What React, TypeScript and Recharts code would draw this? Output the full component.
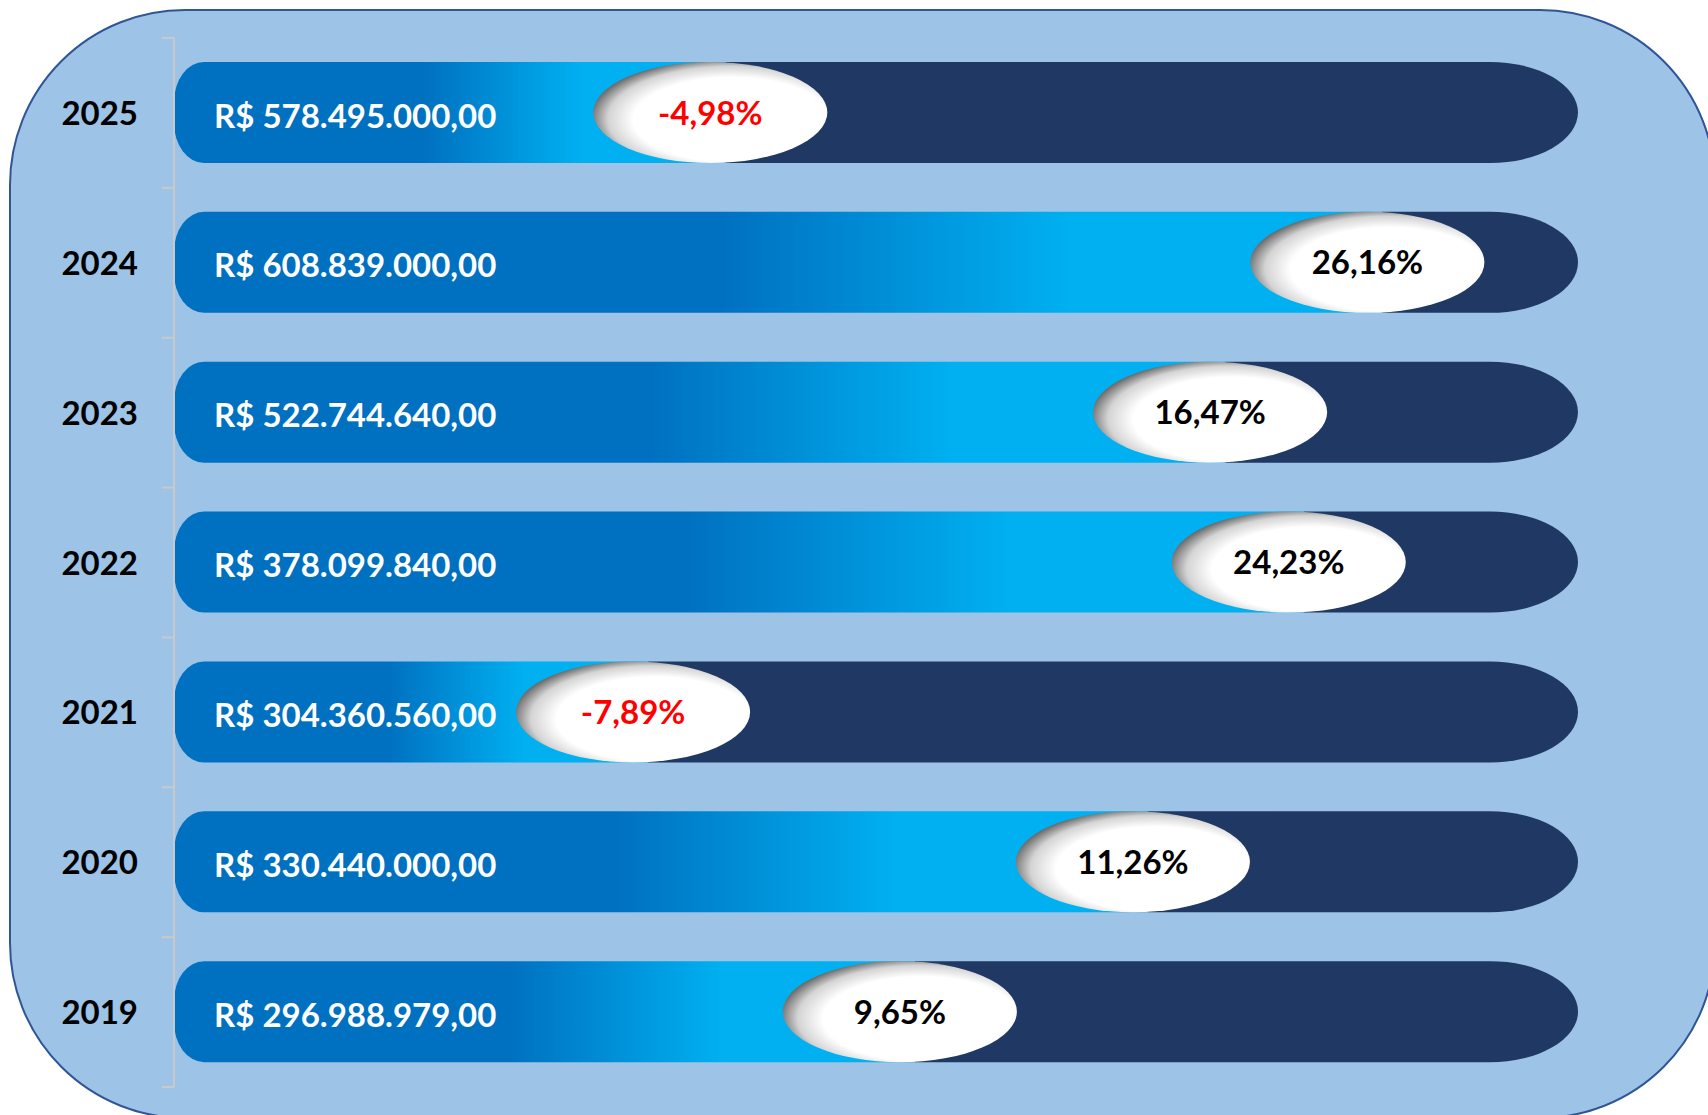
import { BarChart, Bar, XAxis, YAxis } from "recharts";

const years = ["2025", "2024", "2023", "2022", "2021", "2020", "2019"];
const amounts = [578495000, 608839000, 522744640, 378099840, 304360560, 330440000, 296988979];
const growth = [-4.98, 26.16, 16.47, 24.23, -7.89, 11.26, 9.65];
// where the oval sits along the bar, in % of its length
const marker = [38.2, 85.0, 73.8, 79.4, 32.7, 68.3, 51.7];

const W = 1708;
const H = 1115;
const TOP = 38;
const BOTTOM = 28;
const AXIS_X = 174;
const BAND = (H - TOP - BOTTOM) / years.length;
const FONT = "Lato, 'Open Sans', sans-serif";

const brl = (v: number) => {
    const [int, dec] = v.toFixed(2).split(".");
    return "R$ " + int.replace(/\B(?=(\d{3})+(?!\d))/g, ".") + "," + dec;
};
const pct = (v: number) => v.toFixed(2).replace(".", ",") + "%";

const rows = years.map((year, i) => ({
    year,
    amount: amounts[i],
    growth: growth[i],
    progress: marker[i],
    rest: 100 - marker[i],
}));

const YearTick = (props: any) => {
    const { y, payload, index } = props;
    const half = BAND / 2;
    return (
        <g>
            <text
                x={138}
                y={y}
                dy={12}
                textAnchor="end"
                fontFamily={FONT}
                fontWeight={700}
                fontSize={33}
                fill="#000"
            >
                {payload.value}
            </text>
            <line x1={AXIS_X - 12} x2={AXIS_X} y1={y - half} y2={y - half} stroke="#C9C9C9" strokeWidth={2} />
            {index === years.length - 1 && (
                <line x1={AXIS_X - 12} x2={AXIS_X} y1={y + half} y2={y + half} stroke="#C9C9C9" strokeWidth={2} />
            )}
        </g>
    );
};

const LeftSeg = (props: any) => {
    const { x, y, width, height } = props;
    const d = props.payload ?? props;
    const rx = 30;
    const ry = 40;
    const end = x + width + 15;
    const path = `M ${x + rx},${y} L ${end},${y} L ${end},${y + height} L ${x + rx},${y + height} A ${rx} ${ry} 0 0 1 ${x} ${y + height - ry} L ${x} ${y + ry} A ${rx} ${ry} 0 0 1 ${x + rx} ${y} Z`;
    return (
        <g>
            <path d={path} fill="url(#segGrad)" />
            <text
                x={x + 40}
                y={y + height / 2}
                dy={15}
                fontFamily={FONT}
                fontWeight={700}
                fontSize={33}
                fill="#fff"
            >
                {brl(d.amount)}
            </text>
        </g>
    );
};

const RightSeg = (props: any) => {
    const { x, y, width, height } = props;
    const d = props.payload ?? props;
    const r = 88;
    const start = x + 15;
    const right = x + width;
    const path = `M ${start},${y} L ${right - r},${y} A ${r} ${height / 2} 0 0 1 ${right - r} ${y + height} L ${start},${y + height} Z`;
    const cy = y + height / 2;
    return (
        <g>
            <path d={path} fill="#1F3864" />
            <ellipse cx={x} cy={cy} rx={117} ry={height / 2} fill="url(#ovalGrad)" />
            <text
                x={x}
                y={cy}
                dy={12}
                textAnchor="middle"
                fontFamily={FONT}
                fontWeight={700}
                fontSize={33}
                fill={d.growth < 0 ? "#FF0000" : "#000"}
            >
                {pct(d.growth)}
            </text>
        </g>
    );
};

export default function App() {
    return (
        <div style={{ position: "absolute", left: 0, top: 0, width: W, height: H, overflow: "hidden", background: "#fff" }}>
            <svg width={0} height={0} style={{ position: "absolute" }}>
                <defs>
                    <linearGradient id="segGrad" x1="0" y1="0" x2="1" y2="0">
                        <stop offset="0" stopColor="#0070C0" />
                        <stop offset="0.45" stopColor="#0070C0" />
                        <stop offset="0.74" stopColor="#00B0F0" />
                        <stop offset="1" stopColor="#00B0F0" />
                    </linearGradient>
                    <radialGradient id="ovalGrad" cx="0.58" cy="0.56" r="0.6" fx="0.62" fy="0.6">
                        <stop offset="0" stopColor="#ffffff" />
                        <stop offset="0.7" stopColor="#ffffff" />
                        <stop offset="0.87" stopColor="#d4d4d4" />
                        <stop offset="1" stopColor="#666666" />
                    </radialGradient>
                </defs>
            </svg>
            <div
                style={{
                    position: "absolute",
                    left: 9,
                    top: 9,
                    width: 1707,
                    height: 1110,
                    boxSizing: "border-box",
                    border: "2px solid #2F5597",
                    borderRadius: 176,
                    background: "#9DC3E6",
                }}
            />
            <div style={{ position: "absolute", left: 0, top: 0 }}>
                <BarChart
                    width={W}
                    height={H}
                    data={rows}
                    layout="vertical"
                    margin={{ top: TOP, right: 130, bottom: BOTTOM, left: 0 }}
                    barSize={101}
                >
                    <XAxis type="number" domain={[0, 100]} hide />
                    <YAxis
                        type="category"
                        dataKey="year"
                        width={AXIS_X}
                        axisLine={{ stroke: "#C9C9C9", strokeWidth: 2 }}
                        tickLine={false}
                        tick={<YearTick />}
                        interval={0}
                    />
                    <Bar dataKey="progress" stackId="a" shape={<LeftSeg />} isAnimationActive={false} />
                    <Bar dataKey="rest" stackId="a" shape={<RightSeg />} isAnimationActive={false} />
                </BarChart>
            </div>
        </div>
    );
}
